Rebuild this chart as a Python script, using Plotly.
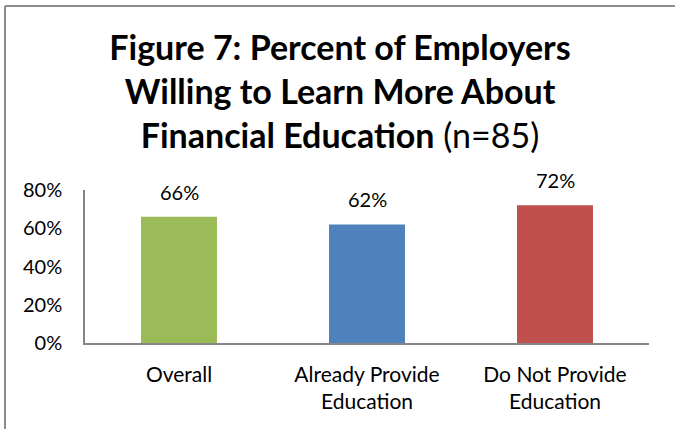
import plotly.graph_objects as go

categories = ["Overall", "Already Provide<br>Education", "Do Not Provide<br>Education"]
values = [0.66, 0.62, 0.72]
value_labels = ["66%", "62%", "72%"]
colors = ["#9BBB59", "#4F81BD", "#C0504D"]
tick_vals = [0, 0.2, 0.4, 0.6, 0.8]
tick_text = ["0%", "20%", "40%", "60%", "80%"]

W, H = 675, 429
L, R, T, B = 85, 26, 190, 86

FONT = "Lato"

fig = go.Figure()
fig.add_trace(go.Bar(
    x=categories, y=values, marker_color=colors, width=0.404,
    marker_line_width=0, hoverinfo="skip",
))

for c, v, t in zip(categories, values, value_labels):
    fig.add_annotation(x=c, y=v, text=t, showarrow=False, yanchor="bottom",
                       yshift=11, font=dict(family=FONT, size=20, color="#000000"))

pw = W - L - R
ph = H - T - B
# border on top and left of the chart frame
x_left = (5 - L) / pw
y_top = (H - 6 - B) / ph
y_bot = (0 - B) / ph
x_right = (W - L) / pw
fig.add_shape(type="line", xref="paper", yref="paper", x0=x_left, x1=x_left,
              y0=y_bot, y1=y_top, line=dict(color="#8c8c8c", width=2))
fig.add_shape(type="line", xref="paper", yref="paper", x0=x_left, x1=x_right,
              y0=y_top, y1=y_top, line=dict(color="#8c8c8c", width=2))

fig.update_layout(
    width=W, height=H,
    margin=dict(l=L, r=R, t=T, b=B, pad=0),
    paper_bgcolor="white", plot_bgcolor="white",
    showlegend=False,
    bargap=0.596,
    title=dict(
        text="<b>Figure 7: Percent of Employers<br>Willing to Learn More About<br>Financial Education</b> (n=85)",
        x=340 / W, xanchor="center", y=1 - 60 / H, yanchor="top", yref="container",
        font=dict(family=FONT, size=34, color="#000000"),
    ),
    font=dict(family=FONT, color="#000000"),
)
fig.update_yaxes(
    range=[0, 0.8], tickvals=tick_vals, ticktext=tick_text,
    showgrid=False, zeroline=False, showline=True, linecolor="#868686", linewidth=1.5,
    ticks="", ticklabelstandoff=17, tickfont=dict(family=FONT, size=20, color="#000000"),
)
fig.update_xaxes(
    showgrid=False, zeroline=False, showline=True, linecolor="#868686", linewidth=1.5,
    ticks="", ticklabelstandoff=12, tickfont=dict(family=FONT, size=21, color="#000000"),
)

fig.write_html("out.html",
               config={"displayModeBar": False},
               post_script="document.body.style.margin='0';document.body.style.overflow='hidden';")
